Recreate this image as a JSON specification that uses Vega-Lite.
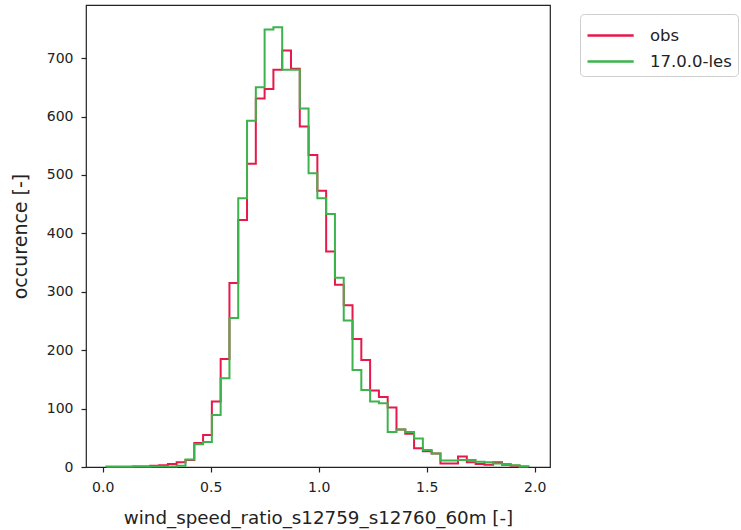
{
  "$schema": "https://vega.github.io/schema/vega-lite/v6.json",
  "autosize": {"type": "none"},
  "padding": {"left": 86, "top": 5, "right": 191, "bottom": 63},
  "width": 464,
  "height": 462,
  "config": {
    "font": "DejaVu Sans",
    "view": {"stroke": "#222", "strokeWidth": 1.2},
    "axis": {"grid": false, "domain": false, "tickColor": "#222", "tickSize": 5, "tickWidth": 1.2, "labelColor": "#222", "titleColor": "#222", "labelFontSize": 14, "titleFontWeight": "normal"}
  },
  "datasets": {
    "hist": [
      {"s":"obs","i":-1,"x":0.0170,"n":0},
      {"s":"obs","i":0,"x":0.0170,"n":0},{"s":"obs","i":1,"x":0.0577,"n":0},{"s":"obs","i":2,"x":0.0984,"n":0},{"s":"obs","i":3,"x":0.1391,"n":1},{"s":"obs","i":4,"x":0.1798,"n":1},{"s":"obs","i":5,"x":0.2205,"n":2},{"s":"obs","i":6,"x":0.2612,"n":3},{"s":"obs","i":7,"x":0.3019,"n":5},{"s":"obs","i":8,"x":0.3426,"n":8},{"s":"obs","i":9,"x":0.3833,"n":12},
      {"s":"obs","i":10,"x":0.4240,"n":41},{"s":"obs","i":11,"x":0.4647,"n":55},{"s":"obs","i":12,"x":0.5054,"n":112},{"s":"obs","i":13,"x":0.5461,"n":185},{"s":"obs","i":14,"x":0.5868,"n":315},{"s":"obs","i":15,"x":0.6275,"n":423},{"s":"obs","i":16,"x":0.6682,"n":519},{"s":"obs","i":17,"x":0.7089,"n":631},{"s":"obs","i":18,"x":0.7496,"n":647},{"s":"obs","i":19,"x":0.7903,"n":680},
      {"s":"obs","i":20,"x":0.8310,"n":713},{"s":"obs","i":21,"x":0.8717,"n":682},{"s":"obs","i":22,"x":0.9124,"n":583},{"s":"obs","i":23,"x":0.9531,"n":534},{"s":"obs","i":24,"x":0.9938,"n":473},{"s":"obs","i":25,"x":1.0345,"n":369},{"s":"obs","i":26,"x":1.0752,"n":312},{"s":"obs","i":27,"x":1.1159,"n":277},{"s":"obs","i":28,"x":1.1566,"n":219},{"s":"obs","i":29,"x":1.1973,"n":183},
      {"s":"obs","i":30,"x":1.2380,"n":131},{"s":"obs","i":31,"x":1.2787,"n":120},{"s":"obs","i":32,"x":1.3194,"n":102},{"s":"obs","i":33,"x":1.3601,"n":64},{"s":"obs","i":34,"x":1.4008,"n":57},{"s":"obs","i":35,"x":1.4415,"n":32},{"s":"obs","i":36,"x":1.4822,"n":27},{"s":"obs","i":37,"x":1.5229,"n":23},{"s":"obs","i":38,"x":1.5636,"n":6},{"s":"obs","i":39,"x":1.6043,"n":6},
      {"s":"obs","i":40,"x":1.6450,"n":18},{"s":"obs","i":41,"x":1.6857,"n":8},{"s":"obs","i":42,"x":1.7264,"n":5},{"s":"obs","i":43,"x":1.7671,"n":4},{"s":"obs","i":44,"x":1.8078,"n":8},{"s":"obs","i":45,"x":1.8485,"n":4},{"s":"obs","i":46,"x":1.8892,"n":2},{"s":"obs","i":47,"x":1.9299,"n":1},
      {"s":"obs","i":48,"x":1.9706,"n":0},
      {"s":"17.0.0-les","i":-1,"x":0.0170,"n":0},
      {"s":"17.0.0-les","i":0,"x":0.0170,"n":1},{"s":"17.0.0-les","i":1,"x":0.0577,"n":1},{"s":"17.0.0-les","i":2,"x":0.0984,"n":1},{"s":"17.0.0-les","i":3,"x":0.1391,"n":1},{"s":"17.0.0-les","i":4,"x":0.1798,"n":1},{"s":"17.0.0-les","i":5,"x":0.2205,"n":1},{"s":"17.0.0-les","i":6,"x":0.2612,"n":1},{"s":"17.0.0-les","i":7,"x":0.3019,"n":1},{"s":"17.0.0-les","i":8,"x":0.3426,"n":2},{"s":"17.0.0-les","i":9,"x":0.3833,"n":13},
      {"s":"17.0.0-les","i":10,"x":0.4240,"n":39},{"s":"17.0.0-les","i":11,"x":0.4647,"n":43},{"s":"17.0.0-les","i":12,"x":0.5054,"n":89},{"s":"17.0.0-les","i":13,"x":0.5461,"n":152},{"s":"17.0.0-les","i":14,"x":0.5868,"n":255},{"s":"17.0.0-les","i":15,"x":0.6275,"n":460},{"s":"17.0.0-les","i":16,"x":0.6682,"n":593},{"s":"17.0.0-les","i":17,"x":0.7089,"n":650},{"s":"17.0.0-les","i":18,"x":0.7496,"n":749},{"s":"17.0.0-les","i":19,"x":0.7903,"n":753},
      {"s":"17.0.0-les","i":20,"x":0.8310,"n":680},{"s":"17.0.0-les","i":21,"x":0.8717,"n":680},{"s":"17.0.0-les","i":22,"x":0.9124,"n":614},{"s":"17.0.0-les","i":23,"x":0.9531,"n":503},{"s":"17.0.0-les","i":24,"x":0.9938,"n":460},{"s":"17.0.0-les","i":25,"x":1.0345,"n":433},{"s":"17.0.0-les","i":26,"x":1.0752,"n":324},{"s":"17.0.0-les","i":27,"x":1.1159,"n":251},{"s":"17.0.0-les","i":28,"x":1.1566,"n":166},{"s":"17.0.0-les","i":29,"x":1.1973,"n":132},
      {"s":"17.0.0-les","i":30,"x":1.2380,"n":112},{"s":"17.0.0-les","i":31,"x":1.2787,"n":109},{"s":"17.0.0-les","i":32,"x":1.3194,"n":60},{"s":"17.0.0-les","i":33,"x":1.3601,"n":64},{"s":"17.0.0-les","i":34,"x":1.4008,"n":60},{"s":"17.0.0-les","i":35,"x":1.4415,"n":49},{"s":"17.0.0-les","i":36,"x":1.4822,"n":29},{"s":"17.0.0-les","i":37,"x":1.5229,"n":23},{"s":"17.0.0-les","i":38,"x":1.5636,"n":11},{"s":"17.0.0-les","i":39,"x":1.6043,"n":11},
      {"s":"17.0.0-les","i":40,"x":1.6450,"n":12},{"s":"17.0.0-les","i":41,"x":1.6857,"n":12},{"s":"17.0.0-les","i":42,"x":1.7264,"n":9},{"s":"17.0.0-les","i":43,"x":1.7671,"n":8},{"s":"17.0.0-les","i":44,"x":1.8078,"n":6},{"s":"17.0.0-les","i":45,"x":1.8485,"n":5},{"s":"17.0.0-les","i":46,"x":1.8892,"n":3},{"s":"17.0.0-les","i":47,"x":1.9299,"n":1},
      {"s":"17.0.0-les","i":48,"x":1.9706,"n":0}
    ]
  },
  "data": {"name": "hist"},
  "encoding": {
    "x": {"field": "x", "type": "quantitative", "scale": {"domain": [-0.0773, 2.0708], "nice": false, "zero": false},
      "axis": {"values": [0, 0.5, 1, 1.5, 2], "format": ".1f", "title": "wind_speed_ratio_s12759_s12760_60m [-]", "titleFontSize": 18.3, "labelPadding": 8, "titlePadding": 15}},
    "y": {"field": "n", "type": "quantitative", "scale": {"domain": [0, 791], "nice": false},
      "axis": {"values": [0, 100, 200, 300, 400, 500, 600, 700], "title": "occurence [-]", "titleFontSize": 19, "labelPadding": 8, "titlePadding": 16}},
    "order": {"field": "i", "type": "quantitative"},
    "color": {"field": "s", "type": "nominal", "title": null,
      "scale": {"domain": ["obs", "17.0.0-les"], "range": ["#e6194b", "#3cb44b"]},
      "legend": {"orient": "none", "legendX": 494, "legendY": 9, "symbolType": "M-1,0H2.3", "symbolSize": 784, "symbolStrokeWidth": 2.5, "labelFontSize": 16.5, "labelColor": "#222", "labelOffset": 33, "rowPadding": 2, "padding": 6, "strokeColor": "#cfcfcf", "cornerRadius": 4, "fillColor": "white"}}
  },
  "layer": [
    {"transform": [{"filter": "datum.s === 'obs'"}], "mark": {"type": "line", "interpolate": "step-after", "strokeWidth": 2}},
    {"transform": [{"filter": "datum.s === '17.0.0-les'"}], "mark": {"type": "line", "interpolate": "step-after", "strokeWidth": 2}}
  ]
}
